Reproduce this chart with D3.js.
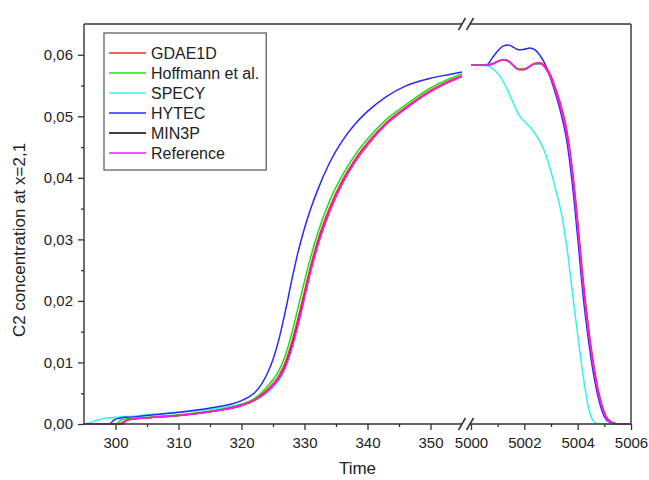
<!DOCTYPE html>
<html><head><meta charset="utf-8">
<script src="https://cdn.jsdelivr.net/npm/d3@7"></script>
<style>body{margin:0;background:#fff}svg text{font-family:"Liberation Sans",Arial,sans-serif;fill:#222}</style>
</head><body><svg id="c" width="649" height="480"></svg>
<script>
// ---- data ----
const seriesNames = ["GDAE1D", "Hoffmann et al.", "SPECY", "HYTEC", "MIN3P", "Reference"];
const seriesColors = ["#ff2a2a", "#18e018", "#30f4f4", "#2828ff", "#000000", "#ff18ff"];
const drawOrder = ["MIN3P", "SPECY", "HYTEC", "Hoffmann et al.", "GDAE1D", "Reference"];

const tLeft = [295, 296, 297, 298, 299, 299.5, 300, 300.5, 301, 301.5, 302, 305, 310, 315, 320, 322, 323, 324, 325, 326, 327, 328, 329, 330, 331, 332, 334, 336, 338, 340, 343, 346, 350, 353, 355];
const tRight = [5000, 5000.3, 5000.6, 5000.8, 5001.0, 5001.2, 5001.4, 5001.6, 5001.8, 5002.0, 5002.2, 5002.4, 5002.6, 5002.8, 5003.0, 5003.2, 5003.4, 5003.6, 5003.8, 5004.0, 5004.2, 5004.4, 5004.6, 5004.8, 5005.0, 5005.2, 5005.5, 5006];

const gdae1dLeft = [0, 0, 0, 0, 0, 0, 0, 0, 0.0002, 0.0005, 0.0007, 0.0010, 0.0014, 0.0020, 0.0031, 0.0039, 0.0046, 0.0055, 0.0066, 0.0080, 0.0102, 0.0134, 0.0173, 0.0216, 0.0258, 0.0295, 0.0352, 0.0396, 0.0430, 0.0457, 0.0490, 0.0514, 0.0542, 0.0558, 0.0566];
const hoffmannLeft = [0, 0, 0, 0, 0, 0, 0, 0.0003, 0.0007, 0.0008, 0.0009, 0.0011, 0.0015, 0.0021, 0.0032, 0.0041, 0.0049, 0.0060, 0.0072, 0.0088, 0.0113, 0.0148, 0.0190, 0.0232, 0.0272, 0.0307, 0.0363, 0.0404, 0.0437, 0.0463, 0.0495, 0.0518, 0.0546, 0.0561, 0.0569];
const specyLeft = [0, 0.0002, 0.0006, 0.0009, 0.0010, 0.0010, 0.0011, 0.0011, 0.0012, 0.0012, 0.0012, 0.0015, 0.0019, 0.0024, 0.0032, 0.0038, 0.0043, 0.0050, 0.0059, 0.0071, 0.0090, 0.0120, 0.0159, 0.0203, 0.0247, 0.0285, 0.0345, 0.0390, 0.0425, 0.0453, 0.0487, 0.0512, 0.0540, 0.0556, 0.0565];
const hytecLeft = [0, 0, 0, 0, 0, 0.0004, 0.0008, 0.0009, 0.0010, 0.0011, 0.0011, 0.0014, 0.0019, 0.0026, 0.0038, 0.0050, 0.0062, 0.0080, 0.0105, 0.0140, 0.0185, 0.0235, 0.0280, 0.0318, 0.0350, 0.0378, 0.0425, 0.0460, 0.0487, 0.0508, 0.0532, 0.0549, 0.0562, 0.0568, 0.0572];
const min3pLeft = [0, 0, 0, 0, 0, 0, 0, 0, 0, 0.0004, 0.0007, 0.0010, 0.0014, 0.0020, 0.0030, 0.0038, 0.0044, 0.0052, 0.0062, 0.0075, 0.0096, 0.0127, 0.0166, 0.0209, 0.0251, 0.0289, 0.0347, 0.0392, 0.0426, 0.0454, 0.0488, 0.0512, 0.0540, 0.0556, 0.0565];
const referenceLeft = [0, 0, 0, 0, 0, 0, 0, 0, 0, 0.0004, 0.0007, 0.0010, 0.0014, 0.0020, 0.0030, 0.0038, 0.0044, 0.0052, 0.0062, 0.0074, 0.0094, 0.0124, 0.0162, 0.0205, 0.0248, 0.0286, 0.0345, 0.0390, 0.0425, 0.0453, 0.0487, 0.0512, 0.0540, 0.0556, 0.0565];

const gdae1dRight = [0.0583, 0.0583, 0.0583, 0.0585, 0.0589, 0.0592, 0.0590, 0.0582, 0.0576, 0.0576, 0.0581, 0.0586, 0.0587, 0.0580, 0.0566, 0.0542, 0.0514, 0.0476, 0.0415, 0.0332, 0.0238, 0.0160, 0.0097, 0.0050, 0.0019, 0.0005, 0, 0];
const hoffmannRight = [0.0583, 0.0583, 0.0583, 0.0585, 0.0589, 0.0591, 0.0589, 0.0582, 0.0577, 0.0577, 0.0581, 0.0585, 0.0586, 0.0579, 0.0564, 0.0540, 0.0511, 0.0472, 0.0410, 0.0326, 0.0231, 0.0155, 0.0094, 0.0048, 0.0018, 0.0005, 0, 0];
const specyRight = [0.0583, 0.0583, 0.0582, 0.0578, 0.0570, 0.0557, 0.0540, 0.0520, 0.0502, 0.0492, 0.0483, 0.0472, 0.0458, 0.0438, 0.0410, 0.0377, 0.0340, 0.0286, 0.0215, 0.0145, 0.0080, 0.0028, 0.0004, 0, 0, 0, 0, 0];
const hytecRight = [0.0583, 0.0583, 0.0584, 0.0595, 0.0606, 0.0614, 0.0616, 0.0612, 0.0608, 0.0609, 0.0611, 0.0608, 0.0598, 0.0583, 0.0560, 0.0532, 0.0500, 0.0458, 0.0390, 0.0303, 0.0210, 0.0138, 0.0080, 0.0038, 0.0012, 0.0003, 0, 0];
const min3pRight = [0.0583, 0.0583, 0.0583, 0.0585, 0.0589, 0.0592, 0.0590, 0.0582, 0.0576, 0.0576, 0.0581, 0.0586, 0.0586, 0.0578, 0.0562, 0.0537, 0.0507, 0.0468, 0.0405, 0.0320, 0.0225, 0.0150, 0.0090, 0.0045, 0.0016, 0.0004, 0, 0];
const referenceRight = [0.0583, 0.0583, 0.0583, 0.0585, 0.0589, 0.0592, 0.0590, 0.0582, 0.0576, 0.0576, 0.0581, 0.0586, 0.0586, 0.0578, 0.0562, 0.0537, 0.0507, 0.0468, 0.0405, 0.0320, 0.0225, 0.0150, 0.0090, 0.0045, 0.0016, 0.0004, 0, 0];

const yTicks = [0, 0.01, 0.02, 0.03, 0.04, 0.05, 0.06];
const yMinor = [0.005, 0.015, 0.025, 0.035, 0.045, 0.055];
const xLeftTicks = [300, 310, 320, 330, 340, 350];
const xLeftMinor = [305, 315, 325, 335, 345];
const xRightTicks = [5000, 5002, 5004, 5006];
const xRightMinor = [5001, 5003, 5005];
const yLabel = "C2 concentration at x=2,1";
const xLabel = "Time";

// ---- build ----
const leftData = {"GDAE1D": gdae1dLeft, "Hoffmann et al.": hoffmannLeft, "SPECY": specyLeft, "HYTEC": hytecLeft, "MIN3P": min3pLeft, "Reference": referenceLeft};
const rightData = {"GDAE1D": gdae1dRight, "Hoffmann et al.": hoffmannRight, "SPECY": specyRight, "HYTEC": hytecRight, "MIN3P": min3pRight, "Reference": referenceRight};
const colorOf = d3.scaleOrdinal().domain(seriesNames).range(seriesColors);

const svg = d3.select("#c");
const L = 84, R = 631, T = 24, B = 424, breakL = 462, breakR = 471;
const xL = d3.scaleLinear().domain([295, 355]).range([L, breakL]);
const xR = d3.scaleLinear().domain([5000, 5006]).range([breakR, R]);
const y = d3.scaleLinear().domain([0, 0.065]).range([B, T]);

const fmtY = d => d3.format(".2f")(d).replace(".", ",");
const fs = 15;

function styleAxis(g) {
  g.select(".domain").remove();
  g.selectAll(".tick line").attr("stroke", "#333").attr("stroke-width", 1.3);
  g.selectAll(".tick text").attr("font-size", fs).attr("fill", "#222");
}
svg.append("g").attr("transform", `translate(${L},0)`)
  .call(d3.axisLeft(y).tickValues(yTicks).tickFormat(fmtY).tickSize(6).tickPadding(5)).call(styleAxis);
svg.append("g").attr("transform", `translate(${L},0)`)
  .call(d3.axisLeft(y).tickValues(yMinor).tickFormat("").tickSize(3)).call(styleAxis);
svg.append("g").attr("transform", `translate(0,${B})`)
  .call(d3.axisBottom(xL).tickValues(xLeftTicks).tickFormat(d3.format("d")).tickSize(6).tickPadding(7)).call(styleAxis);
svg.append("g").attr("transform", `translate(0,${B})`)
  .call(d3.axisBottom(xL).tickValues(xLeftMinor).tickFormat("").tickSize(3)).call(styleAxis);
svg.append("g").attr("transform", `translate(0,${B})`)
  .call(d3.axisBottom(xR).tickValues(xRightTicks).tickFormat(d3.format("d")).tickSize(6).tickPadding(7)).call(styleAxis);
svg.append("g").attr("transform", `translate(0,${B})`)
  .call(d3.axisBottom(xR).tickValues(xRightMinor).tickFormat("").tickSize(3)).call(styleAxis);

// lines
const lineL = d3.line().x(d => xL(d[0])).y(d => y(d[1])).curve(d3.curveMonotoneX);
const lineR = d3.line().x(d => xR(d[0])).y(d => y(d[1])).curve(d3.curveMonotoneX);
const gl = svg.append("g");
drawOrder.forEach(name => {
  gl.append("path").attr("d", lineL(tLeft.map((t, i) => [t, leftData[name][i]])))
    .attr("fill", "none").attr("stroke", colorOf(name)).attr("stroke-width", 1.5);
  gl.append("path").attr("d", lineR(tRight.map((t, i) => [t, rightData[name][i]])))
    .attr("fill", "none").attr("stroke", colorOf(name)).attr("stroke-width", 1.5);
});

// frame with break
const fr = svg.append("g").attr("stroke", "#333").attr("stroke-width", 1.4).attr("fill", "none");
fr.append("line").attr("x1", L).attr("x2", L).attr("y1", T).attr("y2", B);
fr.append("line").attr("x1", R).attr("x2", R).attr("y1", T).attr("y2", B);
[T, B].forEach(yy => {
  fr.append("line").attr("x1", L).attr("x2", breakL).attr("y1", yy).attr("y2", yy);
  fr.append("line").attr("x1", breakR - 1).attr("x2", R).attr("y1", yy).attr("y2", yy);
  [breakL, breakR - 1].forEach(cx => {
    fr.append("line").attr("x1", cx - 3.5).attr("y1", yy + 6).attr("x2", cx + 3.5).attr("y2", yy - 6).attr("stroke-width", 1.5);
  });
});

// titles
svg.append("text").attr("x", (L + R) / 2).attr("y", 474).attr("text-anchor", "middle").attr("font-size", 17).text(xLabel);
svg.append("text").attr("transform", "translate(25,240) rotate(-90)").attr("text-anchor", "middle").attr("font-size", 17).text(yLabel);

// legend
const lg = svg.append("g");
const box = lg.append("rect").attr("x", 104).attr("y", 33).attr("height", 137).attr("fill", "#fff").attr("stroke", "#555").attr("stroke-width", 1.2);
let maxW = 0;
seriesNames.forEach((name, i) => {
  const yy = 53 + i * 20;
  lg.append("line").attr("x1", 109).attr("x2", 146).attr("y1", yy).attr("y2", yy).attr("stroke", colorOf(name)).attr("stroke-width", 1.5);
  const t = lg.append("text").attr("x", 151).attr("y", yy + 5.5).attr("font-size", 16).text(name);
  maxW = Math.max(maxW, t.node().getComputedTextLength());
});
box.attr("width", 151 + maxW + 7 - 104);
</script></body></html>
